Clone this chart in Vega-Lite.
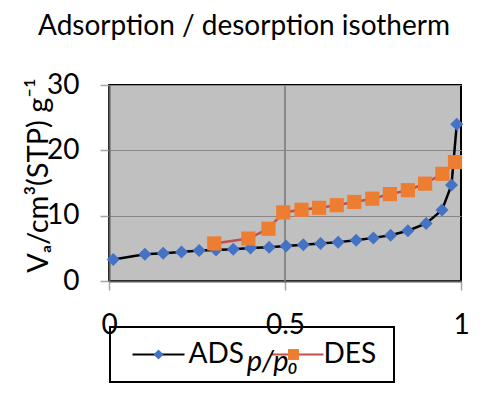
{
  "$schema": "https://vega.github.io/schema/vega-lite/v6.json",
  "width": 352,
  "height": 196,
  "autosize": {"type": "none"},
  "padding": {"left": 109, "top": 85, "right": 21, "bottom": 113},
  "background": "white",
  "title": {
    "text": "Adsorption / desorption isotherm",
    "font": "Lato",
    "fontSize": 28,
    "fontWeight": "normal",
    "color": "black",
    "anchor": "middle",
    "dx": -41,
    "dy": -26
  },
  "data": {
    "values": [
      {"series": "ADS", "p": 0.012, "v": 3.3},
      {"series": "ADS", "p": 0.102, "v": 4.1},
      {"series": "ADS", "p": 0.154, "v": 4.25},
      {"series": "ADS", "p": 0.206, "v": 4.45},
      {"series": "ADS", "p": 0.256, "v": 4.65},
      {"series": "ADS", "p": 0.304, "v": 4.75},
      {"series": "ADS", "p": 0.353, "v": 4.85},
      {"series": "ADS", "p": 0.402, "v": 5.05},
      {"series": "ADS", "p": 0.455, "v": 5.15},
      {"series": "ADS", "p": 0.503, "v": 5.35},
      {"series": "ADS", "p": 0.552, "v": 5.55},
      {"series": "ADS", "p": 0.601, "v": 5.75},
      {"series": "ADS", "p": 0.651, "v": 5.95},
      {"series": "ADS", "p": 0.702, "v": 6.25},
      {"series": "ADS", "p": 0.751, "v": 6.6},
      {"series": "ADS", "p": 0.8, "v": 7.0},
      {"series": "ADS", "p": 0.849, "v": 7.7},
      {"series": "ADS", "p": 0.901, "v": 8.8},
      {"series": "ADS", "p": 0.946, "v": 10.85},
      {"series": "ADS", "p": 0.973, "v": 14.7},
      {"series": "ADS", "p": 0.988, "v": 24.0},
      {"series": "DES", "p": 0.983, "v": 18.2},
      {"series": "DES", "p": 0.947, "v": 16.4},
      {"series": "DES", "p": 0.898, "v": 14.9},
      {"series": "DES", "p": 0.849, "v": 13.9},
      {"series": "DES", "p": 0.798, "v": 13.3},
      {"series": "DES", "p": 0.748, "v": 12.6},
      {"series": "DES", "p": 0.697, "v": 12.1},
      {"series": "DES", "p": 0.647, "v": 11.6},
      {"series": "DES", "p": 0.597, "v": 11.2},
      {"series": "DES", "p": 0.547, "v": 10.9},
      {"series": "DES", "p": 0.495, "v": 10.5},
      {"series": "DES", "p": 0.453, "v": 8.0},
      {"series": "DES", "p": 0.396, "v": 6.5},
      {"series": "DES", "p": 0.299, "v": 5.75}
    ]
  },
  "encoding": {
    "x": {
      "field": "p",
      "type": "quantitative",
      "scale": {"domain": [0, 1], "nice": false, "zero": false},
      "axis": {
        "values": [0, 0.5, 1],
        "format": "~g",
        "title": "p/p₀",
        "titleFont": "Lato",
        "titleFontSize": 29,
        "titleFontStyle": "italic",
        "titleFontWeight": "normal",
        "titleColor": "black",
        "titleX": 163,
        "titleY": 89,
        "titleAlign": "center",
        "titleBaseline": "alphabetic",
        "labelFont": "Lato",
        "labelFontSize": 28,
        "labelColor": "black",
        "labelPadding": 21,
        "labelFlush": false,
        "labelOverlap": false,
        "tickSize": 9,
        "tickColor": "#A6A6A6",
        "tickWidth": 1.5,
        "domainColor": "#595959",
        "domainWidth": 2,
        "grid": false,
        "zindex": 1
      }
    },
    "y": {
      "field": "v",
      "type": "quantitative",
      "scale": {"domain": [0, 30], "nice": false},
      "axis": {
        "values": [0, 10, 20, 30],
        "format": "d",
        "title": "Vₐ/cm³(STP) g⁻¹",
        "titleFont": "Lato",
        "titleFontSize": 29,
        "titleFontWeight": "normal",
        "titleColor": "black",
        "titleX": -71,
        "titleY": 90,
        "titleAlign": "center",
        "titleBaseline": "middle",
        "labelFont": "Lato",
        "labelFontSize": 28,
        "labelColor": "black",
        "labelPadding": 21,
        "labelOverlap": false,
        "tickSize": 9,
        "tickColor": "#A6A6A6",
        "tickWidth": 1.5,
        "domainColor": "#595959",
        "domainWidth": 2,
        "grid": true,
        "gridColor": "#878787",
        "gridWidth": 1
      }
    }
  },
  "layer": [
    {
      "mark": {"type": "rule", "color": "#878787", "strokeWidth": 1},
      "encoding": {"x": {"datum": 0.5}, "y": {"value": 0}, "y2": {"value": 196}}
    },
    {
      "mark": {"type": "line", "strokeWidth": 2.5},
      "encoding": {
        "color": {
          "field": "series",
          "type": "nominal",
          "scale": {"domain": ["ADS", "DES"], "range": ["#000000", "#C0504D"]},
          "legend": {
            "orient": "none",
            "legendX": 1,
            "legendY": 242,
            "direction": "horizontal",
            "title": " ",
            "titleOrient": "left",
            "titleFontSize": 14,
            "titlePadding": 9,
            "padding": 13.5,
            "columnPadding": 23,
            "symbolType": "M-2,0H2",
            "symbolSize": 676,
            "symbolStrokeWidth": 2,
            "symbolOffset": 12,
            "labelOffset": 16,
            "labelFont": "Lato",
            "labelFontSize": 28,
            "labelOpacity": 0,
            "fillColor": "white",
            "strokeColor": "black"
          }
        }
      }
    },
    {
      "mark": {"type": "point", "filled": true, "opacity": 1, "size": 1140},
      "encoding": {
        "fill": {
          "field": "series",
          "type": "nominal",
          "scale": {"range": ["#4472C4", "#ED7D31"]},
          "legend": {
            "orient": "none",
            "legendX": 1,
            "legendY": 242,
            "direction": "horizontal",
            "title": " ",
            "titleOrient": "left",
            "titleFontSize": 14,
            "titlePadding": 9,
            "padding": 13.5,
            "columnPadding": 23,
            "symbolSize": 676,
            "symbolStrokeWidth": 2,
            "symbolStrokeColor": "transparent",
            "symbolOffset": 12,
            "symbolOpacity": 1,
            "labelOffset": 16,
            "labelFont": "Lato",
            "labelFontSize": 28,
            "labelColor": "black"
          }
        },
        "shape": {
          "field": "series",
          "type": "nominal",
          "scale": {"range": ["M0,-0.385L0.385,0L0,0.385L-0.385,0Z", "M-0.42,-0.42H0.42V0.42H-0.42Z"]}
        }
      }
    }
  ],
  "config": {
    "view": {"fill": "#C0C0C0", "stroke": "#000000", "strokeWidth": 2},
    "legend": {"strokeWidth": 2},
    "font": "Lato"
  }
}
